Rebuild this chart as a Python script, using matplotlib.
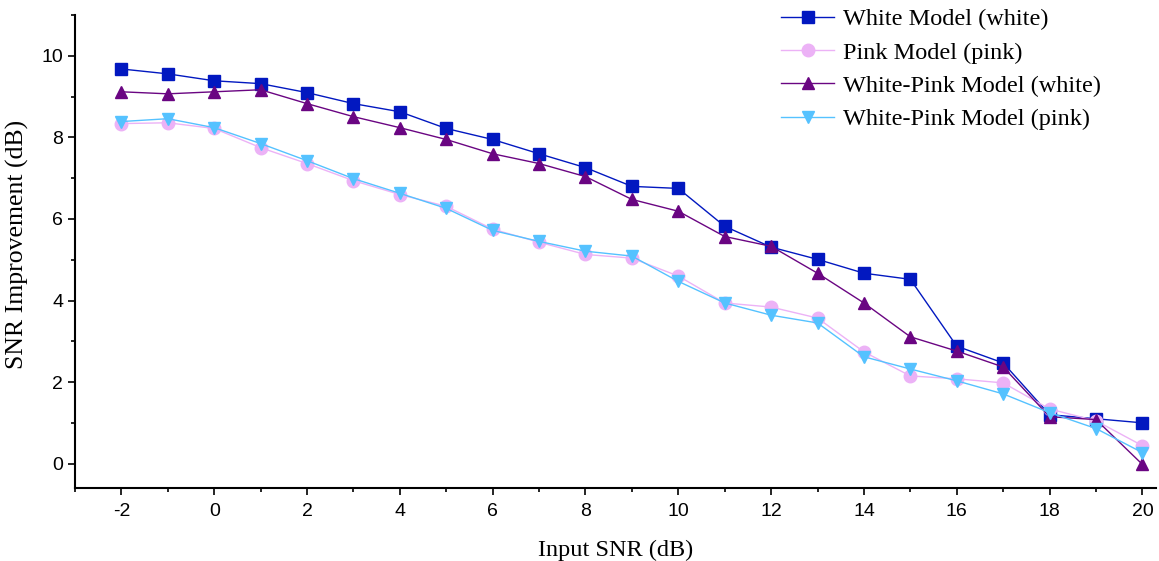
import matplotlib
matplotlib.use("Agg")
import matplotlib.pyplot as plt
from matplotlib.ticker import MultipleLocator

plt.rcParams["axes.unicode_minus"] = False

snr_in = list(range(-2, 21))

white_model_white = [9.68, 9.56, 9.39, 9.32, 9.10, 8.83, 8.63, 8.22, 7.95, 7.60, 7.26, 6.80,
                     6.75, 5.82, 5.31, 5.01, 4.67, 4.52, 2.88, 2.47, 1.20, 1.10, 1.00]
pink_model_pink = [8.34, 8.36, 8.22, 7.75, 7.36, 6.94, 6.60, 6.31, 5.75, 5.43, 5.13, 5.04,
                   4.60, 3.94, 3.84, 3.57, 2.74, 2.15, 2.08, 1.98, 1.34, 1.05, 0.44]
wp_model_white = [9.12, 9.07, 9.12, 9.17, 8.83, 8.51, 8.24, 7.95, 7.60, 7.36, 7.04, 6.48,
                  6.19, 5.57, 5.33, 4.67, 3.94, 3.11, 2.76, 2.37, 1.15, 1.08, -0.02]
wp_model_pink = [8.39, 8.46, 8.24, 7.85, 7.43, 6.99, 6.63, 6.26, 5.72, 5.45, 5.21, 5.09,
                 4.47, 3.94, 3.64, 3.45, 2.62, 2.32, 2.03, 1.71, 1.25, 0.86, 0.27]

series = [
    ("White Model (white)", white_model_white, "#0218c0", "s"),
    ("Pink Model (pink)", pink_model_pink, "#ecb2f6", "o"),
    ("White-Pink Model (white)", wp_model_white, "#6a0582", "^"),
    ("White-Pink Model (pink)", wp_model_pink, "#55c2ff", "v"),
]

fig = plt.figure(figsize=(11.59, 5.61), dpi=100)
ax = fig.add_axes([0.0647, 0.130, 0.933, 0.843])

for name, vals, col, mk in series:
    ax.plot(snr_in, vals, color=col, marker=mk, markersize=9, linewidth=1,
            label=name)

ax.set_xlim(-3, 20.3)
ax.set_ylim(-0.6, 11)
ax.xaxis.set_major_locator(MultipleLocator(2))
ax.xaxis.set_minor_locator(MultipleLocator(1))
ax.yaxis.set_major_locator(MultipleLocator(2))
ax.yaxis.set_minor_locator(MultipleLocator(1))
ax.spines["top"].set_visible(False)
ax.spines["right"].set_visible(False)
ax.spines["left"].set_linewidth(1.5)
ax.spines["bottom"].set_linewidth(1.5)
ax.tick_params(which="major", length=5, width=1.2, labelsize=14,
               direction="out")
ax.tick_params(axis="x", which="major", pad=6)
ax.tick_params(which="minor", length=3, width=1.2, direction="out")
for lab in ax.get_xticklabels() + ax.get_yticklabels():
    lab.set_fontfamily("Liberation Sans")

ax.set_xlabel("Input SNR (dB)", fontfamily="Liberation Serif", fontsize=17.5,
              labelpad=14)
ax.set_ylabel("SNR Improvement (dB)", fontfamily="Liberation Serif",
              fontsize=18.5)
ax.yaxis.set_label_coords(-0.0425, 0.516)

fig.legend(loc="upper left", bbox_to_anchor=(0.655, 1.024), frameon=False,
           prop={"family": "Liberation Serif", "size": 17.5},
           handlelength=2.2, labelspacing=0.46, handletextpad=0.33)

fig.savefig("out.png", dpi=100)
